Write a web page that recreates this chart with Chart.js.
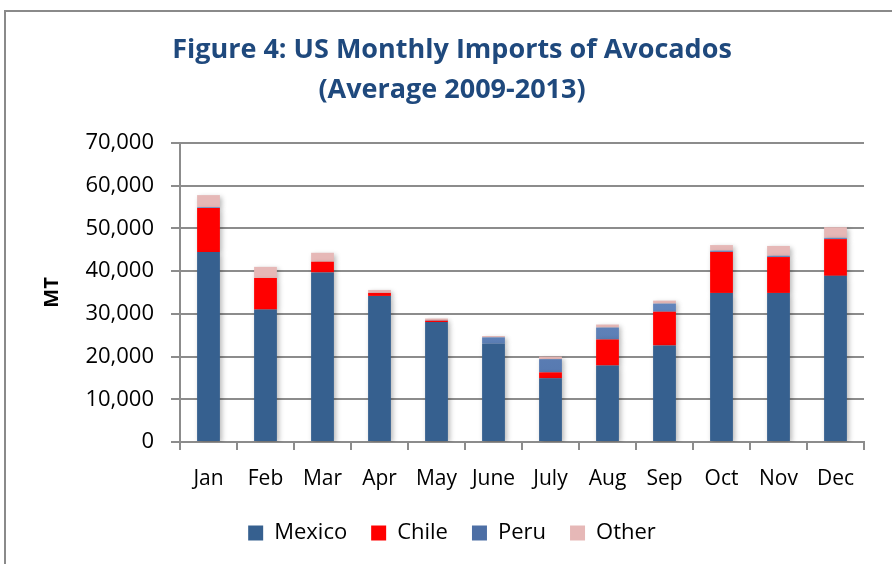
<!DOCTYPE html>
<html>
<head>
<meta charset="utf-8">
<script src="https://cdn.jsdelivr.net/npm/chart.js@4/dist/chart.umd.min.js"></script>
<style>
  body { margin: 0; background: #fff; }
  #wrap { position: relative; width: 892px; height: 564px; }
</style>
</head>
<body>
<div id="wrap"><canvas id="graficoAbacate" width="892" height="564"></canvas></div>
<script>
// monthly averages, metric tonnes
const meses = ['Jan', 'Feb', 'Mar', 'Apr', 'May', 'June', 'July', 'Aug', 'Sep', 'Oct', 'Nov', 'Dec'];
const mexico = [44500, 31000, 39700, 34200, 28100, 23000, 14900, 17900, 22600, 34900, 34900, 38900];
const chile  = [10300, 7400, 2500, 700, 300, 0, 1400, 6100, 7900, 9600, 8400, 8600];
const peru   = [200, 0, 0, 0, 100, 1500, 3100, 2800, 1900, 300, 300, 300];
const outros = [2800, 2600, 2100, 700, 400, 300, 600, 700, 700, 1300, 2300, 2500];
const ticksY = [0, 10000, 20000, 30000, 40000, 50000, 60000, 70000];

const fonte = "'Open Sans', sans-serif";

function carregarGrafico(){
    // moldura cinza em volta do grafico
    const moldura = {
        id: 'moldura',
        beforeDraw(chart){
            const ctx = chart.ctx;
            ctx.save();
            ctx.fillStyle = '#fff';
            ctx.fillRect(0, 0, chart.width, chart.height);
            ctx.strokeStyle = '#8a8a8a';
            ctx.lineWidth = 2;
            ctx.strokeRect(5, 11, 1000, 1000);
            ctx.restore();
        }
    };
    // sombra leve atras das barras
    const sombra = {
        id: 'sombra',
        beforeDatasetsDraw(chart){
            const ctx = chart.ctx;
            ctx.save();
            ctx.shadowColor = 'rgba(0,0,0,0.28)';
            ctx.shadowBlur = 5;
            ctx.shadowOffsetX = 2;
            ctx.shadowOffsetY = 2;
        },
        afterDatasetsDraw(chart){
            chart.ctx.restore();
        }
    };

    const dados = {
        labels: meses,
        datasets: [
            { label: 'Mexico', data: mexico, backgroundColor: '#36608f' },
            { label: 'Chile', data: chile, backgroundColor: '#ff0000' },
            { label: 'Peru', data: peru, backgroundColor: function(c){
                const area = c.chart.chartArea;
                if(!area) return '#6a8cc4';
                const g = c.chart.ctx.createLinearGradient(0, area.top, 0, area.bottom);
                g.addColorStop(0, '#7a9ed6');
                g.addColorStop(1, '#4d6fa5');
                return g;
            } },
            { label: 'Other', data: outros, backgroundColor: '#e6b8b7' }
        ]
    };
    dados.datasets.forEach(function(d){
        d.barPercentage = 0.4;
        d.categoryPercentage = 1;
        d.borderWidth = 0;
    });

    const config = {
        type: 'bar',
        data: dados,
        options: {
            responsive: false,
            animation: false,
            layout: { padding: { left: 40, right: 28, top: 26, bottom: 10 } },
            plugins: {
                tooltip: { enabled: false },
                title: {
                    display: true,
                    text: ['Figure 4: US Monthly Imports of Avocados', '(Average 2009-2013)'],
                    color: '#1f497d',
                    font: { family: fonte, size: 27, weight: 'bold', lineHeight: 1.5 },
                    padding: { top: 4, bottom: 32 }
                },
                legend: {
                    position: 'bottom',
                    labels: {
                        boxWidth: 15,
                        boxHeight: 15,
                        padding: 24,
                        color: '#000',
                        font: { family: fonte, size: 22 }
                    }
                }
            },
            scales: {
                x: {
                    stacked: true,
                    grid: { display: true, drawOnChartArea: false, drawTicks: true, tickLength: 8, color: '#8c8c8c', lineWidth: 2, offset: true },
                    border: { display: true, color: '#8c8c8c', width: 2 },
                    ticks: { color: '#000', font: { family: fonte, size: 21 }, padding: 16, maxRotation: 0 },
                    afterFit(s){ s.height = 56; }
                },
                y: {
                    stacked: true,
                    min: 0,
                    max: 70000,
                    afterBuildTicks(s){ s.ticks = ticksY.map(v => ({ value: v })); },
                    grid: { color: '#8c8c8c', lineWidth: 2, tickLength: 9 },
                    border: { display: true, color: '#8c8c8c', width: 2 },
                    ticks: {
                        color: '#000',
                        font: { family: fonte, size: 22 },
                        padding: 17,
                        callback: v => v.toLocaleString('en-US')
                    },
                    title: {
                        display: true,
                        text: 'MT',
                        color: '#000',
                        font: { family: fonte, size: 20, weight: 'bold' },
                        padding: { top: 0, bottom: 0 }
                    },
                    afterFit(s){ s.width = 140; }
                }
            }
        },
        plugins: [moldura, sombra]
    };
    new Chart(document.getElementById('graficoAbacate'), config);
}
carregarGrafico();
</script>
</body>
</html>
